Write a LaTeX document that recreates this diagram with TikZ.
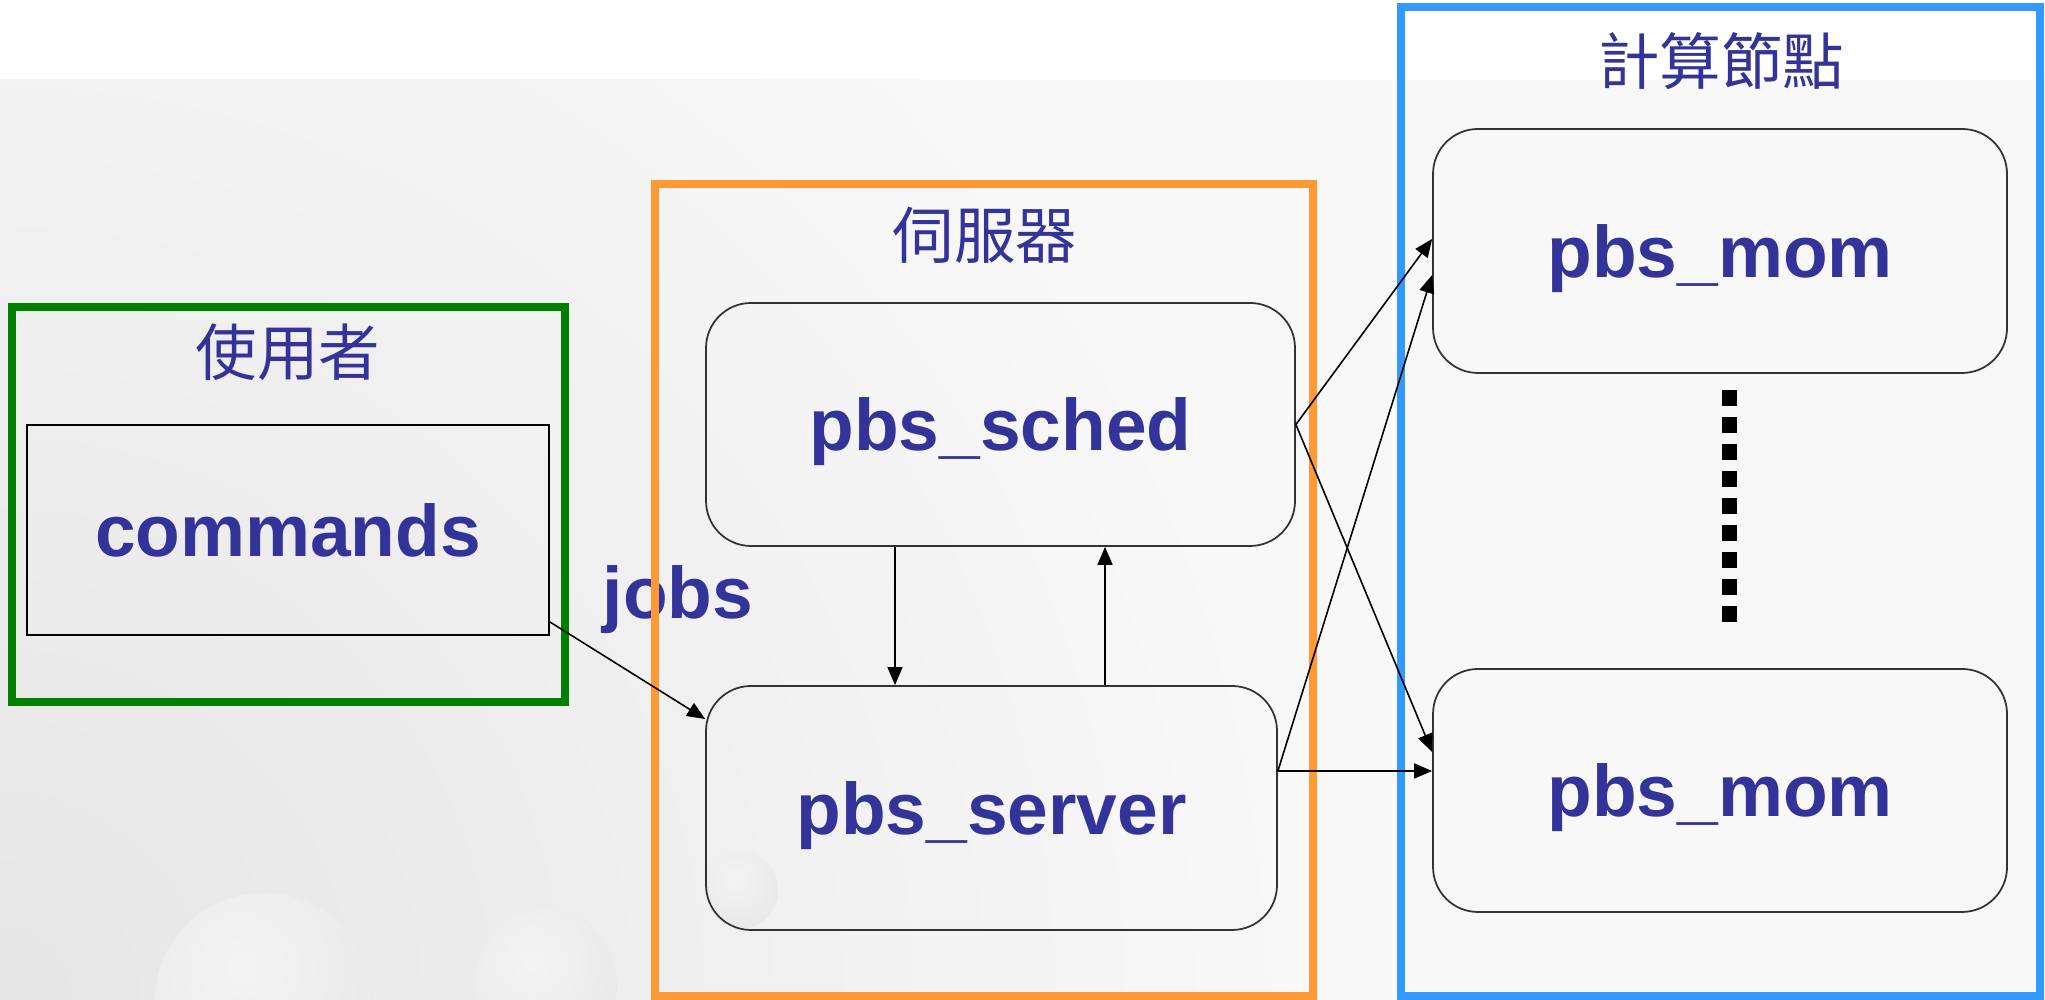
\documentclass[tikz,border=0pt]{standalone}
\usepackage{fontspec}
\setmainfont{Liberation Sans}
\newfontfamily\cjk{Noto Sans CJK TC}
\usepackage{tikz}
\usetikzlibrary{calc,arrows.meta}
\definecolor{ink}{HTML}{333399}
\definecolor{usergreen}{HTML}{007F00}
\definecolor{srvorange}{HTML}{FF9933}
\definecolor{nodeblue}{HTML}{3399FF}
\definecolor{bggray}{HTML}{F8F8F8}
\tikzset{
  frame/.style={line width=0.075cm},
  proc/.style={draw=black!80, line width=0.5pt, rounded corners=0.45cm, inner sep=0pt,
    text depth=0pt, text=ink, font=\bfseries\fontsize{20.8}{24}\selectfont},
  cmdbox/.style={draw=black, line width=0.6pt, inner sep=0pt,
    text=ink, font=\bfseries\fontsize{20.8}{24}\selectfont},
  arr/.style={draw=black, line width=0.45pt, -{Triangle[length=0.18cm,width=0.15cm]}},
  dotline/.style={draw=black, line width=0.15cm, dash pattern=on 0.16cm off 0.11cm},
  lbl/.style={text=ink, font=\bfseries\fontsize{20.8}{24}\selectfont},
  grplbl/.style={text=ink, font=\cjk\fontsize{17.5}{20}\selectfont}
}

\begin{document}
\begin{tikzpicture}
  \useasboundingbox (0,0) rectangle (20.45,10);

  % slide background
  \fill[white] (0,0) rectangle (20.45,10);
  \begin{scope}
    \clip (0,0) rectangle (20.45,9.2);
    \fill[bggray] (0,0) rectangle (20.45,9.2);
    \shade[inner color=gray!20, outer color=bggray] (0,0) circle (13);
  \end{scope}
  \foreach \cx/\cy/\rx/\ry in {2.64/0/1.09/1.07, 5.46/0.15/0.71/0.77, 7.42/1.10/0.36/0.38}{
    \begin{scope}
      \clip (\cx,\cy) ellipse (\rx cm and \ry cm);
      \shade[inner color=gray!9, outer color=gray!22] ({\cx-0.2*\rx},{\cy+0.3*\ry}) circle ({2.2*\rx});
    \end{scope}
  }

  \node[lbl] (jobs) at (6.78,4.00) {jobs};

  % groups
  \draw[frame, usergreen] (0.12,2.98) rectangle (5.65,6.93);
  \draw[frame, srvorange] (6.55,0.04) rectangle (13.13,8.16);
  \draw[frame, nodeblue] (14.01,0.04) rectangle (20.40,9.93);

  \node[grplbl] (usr) at (2.88,6.48) {使用者};
  \node[grplbl] (srv) at (9.85,7.65) {伺服器};
  \node[grplbl] (cmp) at (17.21,9.39) {計算節點};

  % boxes
  \node[cmdbox, minimum width=5.22cm, minimum height=2.10cm] (cmd) at (2.88,4.70) {commands};
  \node[proc, minimum width=5.89cm, minimum height=2.43cm] (sched) at (10.005,5.755) {pbs\_sched};
  \node[proc, minimum width=5.71cm, minimum height=2.44cm] (server) at (9.915,1.92) {pbs\_server};
  \node[proc, minimum width=5.74cm, minimum height=2.44cm] (mom1) at (17.20,7.49) {pbs\_mom};
  \node[proc, minimum width=5.74cm, minimum height=2.43cm] (mom2) at (17.20,2.095) {pbs\_mom};

  % connectors
  \coordinate (d1) at ([xshift=-1.055cm]sched.south);
  \coordinate (u1) at ([xshift=1.045cm]sched.south);
  \coordinate (so) at ([yshift=0.37cm]server.east);

  \draw[arr] ([yshift=0.14cm]cmd.south east) -- ([yshift=0.89cm]server.west);
  \draw[arr] (d1) -- (d1 |- server.north);
  \draw[arr] (u1 |- server.north) -- (u1);
  \draw[arr] (sched.east) -- ([yshift=0.12cm]mom1.west);
  \draw[arr] (sched.east) -- ([yshift=0.385cm]mom2.west);
  \draw[arr] (so) -- ([yshift=-0.24cm]mom1.west);
  \draw[arr] (so) -- (so -| mom2.west);

  \draw[dotline] ([xshift=0.09cm,yshift=-0.16cm]mom1.south) -- ([xshift=0.09cm,yshift=0.46cm]mom2.north);
\end{tikzpicture}
\end{document}
